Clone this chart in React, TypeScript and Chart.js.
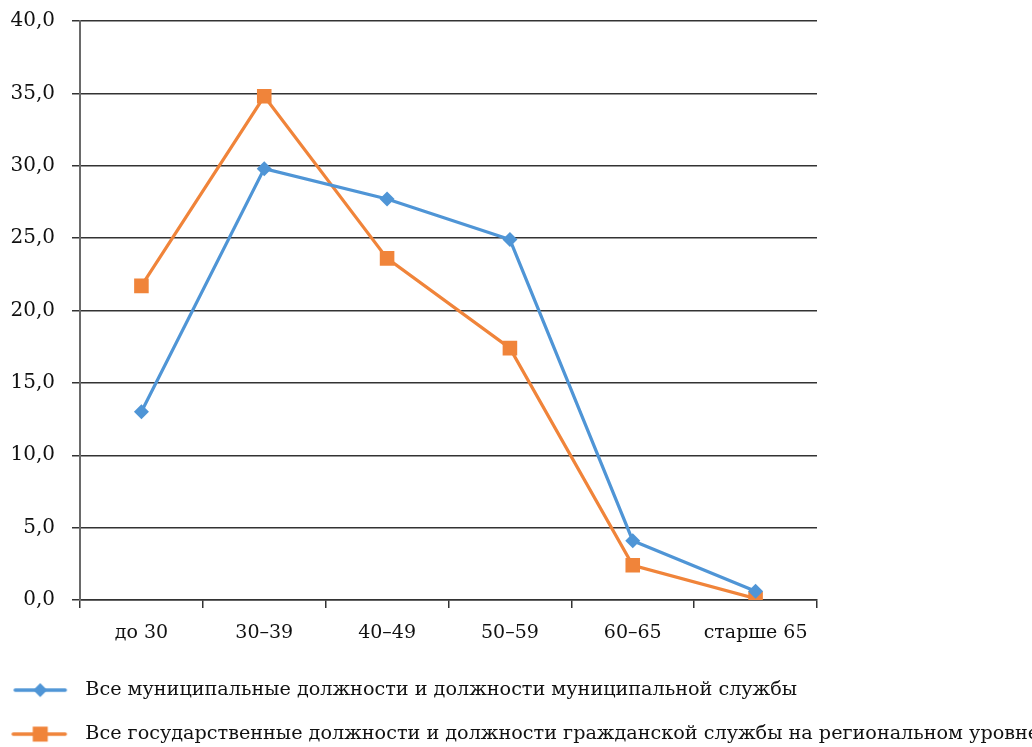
import React, { useEffect, useRef } from 'react';
import { Chart, registerables } from 'chart.js';

Chart.register(...registerables);

const categories = ['до 30', '30–39', '40–49', '50–59', '60–65', 'старше 65'];
const municipalValues = [13.0, 29.8, 27.7, 24.9, 4.1, 0.6];
const regionalValues = [21.7, 34.8, 23.6, 17.4, 2.4, 0.1];
const seriesLabels = [
  'Все муниципальные должности и должности муниципальной службы',
  'Все государственные должности и должности гражданской службы на региональном уровне',
];
const yMin = 0;
const yMax = 40;
const yStep = 5;

const BLUE = '#4F95D6';
const ORANGE = '#F0843A';
const FONT = '"DejaVu Serif", serif';
const TEXT = '#111111';
const LEGEND_FONT = 19.2;
const LEGEND_PAD = 24.8;

function makeIcon(color: string, kind: 'diamond' | 'square'): HTMLCanvasElement {
  const c = document.createElement('canvas');
  c.width = 80;
  c.height = 18;
  const ctx = c.getContext('2d')!;
  ctx.strokeStyle = color;
  ctx.fillStyle = color;
  ctx.lineWidth = 3.5;
  ctx.lineCap = 'round';
  ctx.beginPath();
  ctx.moveTo(kind === 'diamond' ? 5 : 3, 9);
  ctx.lineTo(55, 9);
  ctx.stroke();
  ctx.beginPath();
  if (kind === 'diamond') {
    ctx.moveTo(23, 9);
    ctx.lineTo(30, 2);
    ctx.lineTo(37, 9);
    ctx.lineTo(30, 16);
    ctx.closePath();
  } else {
    ctx.rect(22.5, 1.5, 15, 15);
  }
  ctx.fill();
  return c;
}

const legendFitPlugin = {
  id: 'legendFit',
  beforeInit(chart: any) {
    const lg = chart.legend;
    if (!lg) return;
    const orig = lg.fit;
    lg.fit = function () {
      orig.call(lg);
      this.height = 91.3;
    };
  },
};

export default function App() {
  const ref = useRef<HTMLCanvasElement | null>(null);

  useEffect(() => {
    if (!ref.current) return;
    const icons = [makeIcon(BLUE, 'diamond'), makeIcon(ORANGE, 'square')];
    const chart = new Chart(ref.current, {
      type: 'line',
      data: {
        labels: categories,
        datasets: [
          {
            label: seriesLabels[0],
            data: municipalValues,
            borderColor: BLUE,
            backgroundColor: BLUE,
            borderWidth: 3.2,
            pointStyle: 'rectRot',
            pointRadius: 7.5,
            pointBorderWidth: 0,
            tension: 0,
          },
          {
            label: seriesLabels[1],
            data: regionalValues,
            borderColor: ORANGE,
            backgroundColor: ORANGE,
            borderWidth: 3.2,
            pointStyle: 'rect',
            pointRadius: 10.3,
            pointBorderWidth: 0,
            tension: 0,
          },
        ],
      },
      options: {
        responsive: false,
        animation: false,
        layout: { padding: { left: 0, right: 0, top: 21, bottom: 0 } },
        scales: {
          x: {
            offset: true,
            grid: {
              offset: true,
              drawOnChartArea: false,
              drawTicks: true,
              tickLength: 8,
              color: '#333',
              lineWidth: 1.5,
            },
            border: { color: '#333', width: 1.5 },
            ticks: { color: TEXT, font: { family: FONT, size: 19 }, padding: 14 },
            afterFit: (s: any) => {
              s.height = 55.7;
              s.paddingLeft = 0;
              s.paddingRight = 0;
            },
          },
          y: {
            min: yMin,
            max: yMax,
            grid: { color: '#333', lineWidth: 1.5, tickLength: 8 },
            border: { color: '#6a6a6a', width: 2 },
            ticks: {
              stepSize: yStep,
              color: TEXT,
              font: { family: FONT, size: 20 },
              padding: 17,
              callback: (v: any) => Number(v).toFixed(1).replace('.', ','),
            },
            afterFit: (s: any) => {
              s.width = 80;
              s.paddingTop = 0;
              s.paddingBottom = 0;
            },
          },
          yRight: {
            position: 'right',
            display: true,
            grid: { display: false, drawTicks: false },
            border: { display: false },
            ticks: { display: false },
            afterFit: (s: any) => {
              s.width = 215;
              s.paddingTop = 0;
              s.paddingBottom = 0;
            },
          },
        },
        plugins: {
          tooltip: { enabled: false },
          legend: {
            position: 'bottom',
            align: 'start',
            labels: {
              usePointStyle: true,
              pointStyleWidth: 50.9,
              padding: LEGEND_PAD,
              color: TEXT,
              font: { family: FONT, size: LEGEND_FONT },
              generateLabels: (ch: any) => {
                const items = (Chart as any).defaults.plugins.legend.labels.generateLabels(ch);
                return items.map((it: any, i: number) => ({ ...it, pointStyle: icons[i] }));
              },
            },
          },
        },
      },
      plugins: [legendFitPlugin],
    } as any);
    return () => chart.destroy();
  }, []);

  return (
    <div style={{ position: 'absolute', left: 0, top: 0, width: 1032, height: 747, background: '#fff' }}>
      <canvas ref={ref} width={1032} height={747} />
    </div>
  );
}
